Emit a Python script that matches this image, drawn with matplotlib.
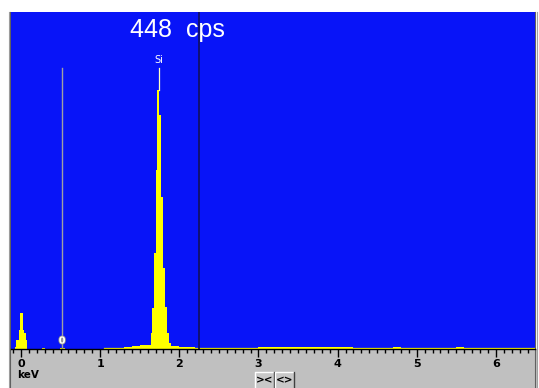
import matplotlib
matplotlib.use("Agg")
import matplotlib.pyplot as plt
import matplotlib.patheffects as pe
from matplotlib.patches import Rectangle
from matplotlib.ticker import MultipleLocator

# spectrum data (keV, counts on a 0..1000 full-scale)
noise_kev = [-0.07, -0.06, -0.05, -0.04, -0.03, -0.02, -0.01, 0.00, 0.01,
             0.02, 0.03, 0.04, 0.05, 0.06, 0.07]
noise_counts = [7, 27, 27, 27, 56, 56, 108, 108, 108, 56, 56, 47, 47, 27, 7]

si_kev = [1.60, 1.61, 1.62, 1.63, 1.64, 1.65, 1.66, 1.67, 1.68, 1.69,
          1.70, 1.71, 1.72, 1.73, 1.74, 1.75, 1.76, 1.77, 1.78, 1.79,
          1.80, 1.81, 1.82, 1.83, 1.84, 1.85, 1.86, 1.87, 1.88, 1.89]
si_counts = [12, 12, 12, 12, 47, 47, 122, 122, 285, 285,
             531, 531, 769, 769, 769, 694, 694, 451, 451, 451,
             240, 240, 125, 125, 47, 47, 47, 18, 18, 10]

bg_kev = [0.26, 0.49, 1.05, 1.1, 1.2, 1.3, 1.4, 1.5, 1.9, 2.0, 2.1, 2.2, 2.3,
          2.4, 2.5, 2.6, 2.7, 2.8, 2.9, 3.0, 3.1, 3.2, 3.3, 3.4, 3.5, 3.6,
          3.7, 3.8, 3.9, 4.0, 4.1, 4.2, 4.3, 4.4, 4.5, 4.6, 4.7, 4.8, 4.9,
          5.0, 5.1, 5.2, 5.3, 5.4, 5.5, 5.6, 5.7, 5.8, 5.9, 6.0, 6.1, 6.2,
          6.3, 6.4]
bg_counts = [4, 4, 3, 4, 4, 6, 8, 12, 8, 7, 5, 4, 4,
             4, 4, 4, 4, 4, 4, 6, 5, 7, 6, 5, 7, 6,
             5, 7, 6, 7, 5, 4, 4, 4, 4, 4, 5, 4, 4,
             4, 4, 4, 4, 4, 5, 4, 4, 4, 4, 4, 4, 4,
             4, 4]
bg_width = [0.04, 0.06] + [0.1] * 52

rate_cps = 448
markers = {"Si": 1.74}
cursor_kev = 2.25
zero_marker_kev = 0.52
marker_top = 834

W, H = 539, 388


def fx(x):
    return x / W


def fy(y):
    return 1 - y / H


fig = plt.figure(figsize=(W / 100, H / 100), dpi=100, facecolor="white")

# gray panel under the spectrum
fig.patches.append(Rectangle((fx(10), fy(388)), fx(527), 39 / H, transform=fig.transFigure,
                             facecolor="#c0c0c0", edgecolor="none", zorder=-5))
# window border lines
for x0, col in [(9, "#a0a0a0"), (10, "#606060"), (535, "#606060"), (536.5, "#a0a0a0")]:
    fig.add_artist(plt.Line2D([fx(x0), fx(x0)], [fy(12), fy(388)], transform=fig.transFigure,
                              color=col, lw=0.8, zorder=-4))

ax = fig.add_axes([fx(11), fy(349), (535 - 11) / W, (349 - 12) / H])
ax.set_facecolor("#0814f8")

yellow = "#ffff00"
ax.bar(bg_kev, bg_counts, width=bg_width, align="edge", color=yellow, linewidth=0)
ax.bar(noise_kev, noise_counts, width=0.01, align="edge", color=yellow, linewidth=0)
ax.bar(si_kev, si_counts, width=0.01, align="edge", color=yellow, linewidth=0)
ax.axhline(2, color=yellow, lw=0.9, xmin=(1.05 + 0.126) / 6.62)

# markers
si_peak = max(si_counts)
ax.plot([markers["Si"], markers["Si"]], [si_peak, marker_top], color="#ffffc0", lw=0.9)
ax.text(markers["Si"], marker_top + 10, "Si", color="white", fontsize=7,
        ha="center", va="bottom", family="DejaVu Sans")
ax.plot([zero_marker_kev, zero_marker_kev], [0, marker_top], color="#a0a0a0", lw=1)
ax.text(zero_marker_kev, 25, "0", color="white", fontsize=7, ha="center", va="center",
        fontweight="bold", path_effects=[pe.withStroke(linewidth=1.2, foreground="#909090")])
ax.axvline(cursor_kev, color="#10106a", lw=1.3)

ax.text(1.38, 948, f"{rate_cps}  cps", color="white", fontsize=18, ha="left",
        va="center", family="Liberation Sans")

ax.set_xlim(-0.126, 6.494)
ax.set_ylim(0, 1000)
ax.set_xticks(range(7))
ax.xaxis.set_minor_locator(MultipleLocator(0.1))
ax.tick_params(axis="x", which="major", direction="out", length=5.5, width=1,
               color="black", labelsize=8, pad=1.5)
ax.tick_params(axis="x", which="minor", direction="out", length=2.8, width=1, color="black")
for lab in ax.get_xticklabels():
    lab.set_fontweight("bold")
ax.set_yticks([])
for side in ["top", "left", "right"]:
    ax.spines[side].set_visible(False)
ax.spines["bottom"].set_color("black")
ax.spines["bottom"].set_linewidth(1)

fig.text(fx(17), fy(375.5), "keV", fontsize=7.5, fontweight="bold", ha="left", va="center")

# zoom buttons
for x0, label in [(255, "><"), (275, "<>")]:
    w, h = 19, 16
    fig.patches.append(Rectangle((fx(x0), fy(372 + h)), w / W, h / H, transform=fig.transFigure,
                                 facecolor="#c8c8c8", edgecolor="none"))
    fig.add_artist(plt.Line2D([fx(x0), fx(x0), fx(x0 + w)], [fy(388), fy(372), fy(372)],
                              transform=fig.transFigure, color="white", lw=1))
    fig.add_artist(plt.Line2D([fx(x0 + w), fx(x0 + w)], [fy(372), fy(388)],
                              transform=fig.transFigure, color="#404040", lw=1))
    fig.text(fx(x0 + w / 2), fy(380), label, fontsize=7.5, fontweight="bold",
             ha="center", va="center")

fig.savefig("out.png", dpi=100)
plt.close()
